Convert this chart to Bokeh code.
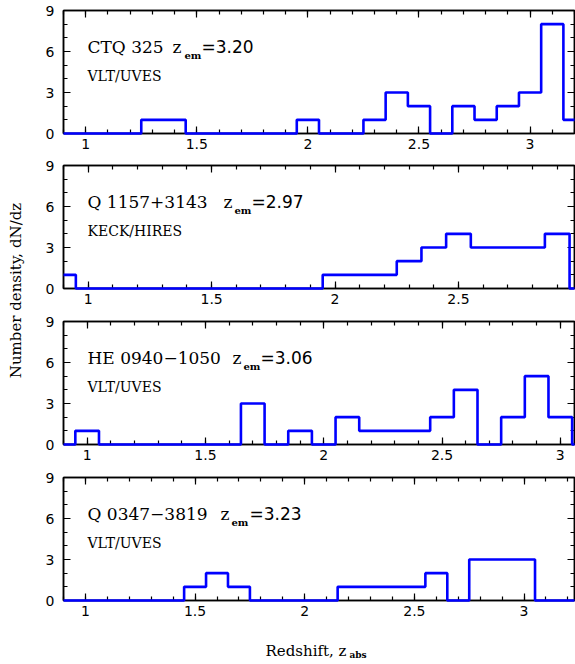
from math import pi
from bokeh.plotting import figure
from bokeh.models import Range1d, LinearAxis, SingleIntervalTicker, Label
from bokeh.layouts import column, row
from bokeh.embed import file_html
from bokeh.resources import INLINE

# ---------------- data ----------------
qso_names = ["CTQ 325", "Q 1157+3143", "HE 0940\u22121050", "Q 0347\u22123819"]
z_em = [3.20, 2.97, 3.06, 3.23]
instruments = ["VLT/UVES", "KECK/HIRES", "VLT/UVES", "VLT/UVES"]
z_start = 0.9

edges_ctq325 = [0.9, 1.25, 1.45, 1.95, 2.05, 2.25, 2.35, 2.45, 2.55, 2.65, 2.75, 2.85, 2.95, 3.05, 3.15, 3.20]
dndz_ctq325 = [0, 1, 0, 1, 0, 1, 3, 2, 0, 2, 1, 2, 3, 8, 1]

edges_q1157 = [0.9, 0.95, 1.95, 2.25, 2.35, 2.45, 2.55, 2.85, 2.95, 2.97]
dndz_q1157 = [1, 0, 1, 2, 3, 4, 3, 4, 0]

edges_he0940 = [0.9, 0.95, 1.05, 1.65, 1.75, 1.85, 1.95, 2.05, 2.15, 2.45, 2.55, 2.65, 2.75, 2.85, 2.95, 3.05, 3.06]
dndz_he0940 = [0, 1, 0, 3, 0, 1, 0, 2, 1, 2, 4, 0, 2, 5, 2, 0]

edges_q0347 = [0.9, 1.45, 1.55, 1.65, 1.75, 2.15, 2.55, 2.65, 2.75, 3.05, 3.23]
dndz_q0347 = [0, 1, 2, 1, 0, 1, 2, 0, 3, 0]

all_edges = [edges_ctq325, edges_q1157, edges_he0940, edges_q0347]
all_dndz = [dndz_ctq325, dndz_q1157, dndz_he0940, dndz_q0347]

x_ticks = [1, 1.5, 2, 2.5, 3]
x_tick_labels = ["1", "1.5", "2", "2.5", "3"]
y_max = 9

y_label = "Number density, dN/dz"
x_label = "Redshift, z"
x_label_sub = "abs"

# ---------------- style / layout ----------------
BLUE = "#0000ff"
SERIF = "DejaVu Serif"
SANS = "DejaVu Sans"
FIG_W = 537
LEFT_W = 38
# x pixel positions (relative to frame left) of title pieces per panel
z_px = [109, 160, 169, 157]
em_px = [121, 171, 180, 168]
eq_px = [138, 188, 197, 186]
tops = [10, 8, 8, 8]
bottoms = [24, 25, 25, 25]
FRAME_H = 123

panels = []
for i in range(4):
    h = tops[i] + FRAME_H + bottoms[i]
    p = figure(width=FIG_W, height=h, toolbar_location=None, output_backend="svg",
               x_range=Range1d(z_start, z_em[i]), y_range=Range1d(0, y_max),
               min_border_left=25, min_border_right=1, min_border_top=tops[i],
               min_border_bottom=bottoms[i])
    p.xgrid.visible = False
    p.ygrid.visible = False
    p.outline_line_color = "black"
    p.outline_line_width = 1.5
    p.background_fill_color = "white"
    p.border_fill_color = "white"

    xt = SingleIntervalTicker(interval=0.5, num_minor_ticks=5)
    yt = SingleIntervalTicker(interval=3, num_minor_ticks=3)
    p.xaxis.ticker = xt
    p.yaxis.ticker = yt
    p.xaxis.major_label_overrides = dict(zip(x_ticks, x_tick_labels))
    p.add_layout(LinearAxis(ticker=xt), "above")
    p.add_layout(LinearAxis(ticker=yt), "right")
    for ax in p.axis:
        ax.axis_line_color = "black"
        ax.axis_line_width = 1.5
        ax.major_tick_in = 7
        ax.major_tick_out = 0
        ax.minor_tick_in = 4
        ax.minor_tick_out = 0
        ax.major_tick_line_color = "black"
        ax.minor_tick_line_color = "black"
        ax.major_tick_line_width = 1.2
        ax.minor_tick_line_width = 1.2
        ax.major_label_text_font = SANS
        ax.major_label_text_font_size = "14px"
        ax.major_label_text_color = "black"
    for ax in (p.above[0], p.right[0]):
        ax.major_label_text_color = None
        ax.major_label_text_font_size = "1px"
        ax.major_label_standoff = 0
    p.xaxis[0].major_label_standoff = 7
    p.yaxis[0].major_label_standoff = 9

    e = all_edges[i]
    v = all_dndz[i]
    r = p.step(x=e, y=v + [v[-1]], mode="after", line_color=BLUE, line_width=2.6)
    r.level = "overlay"

    ty = 87
    p.add_layout(Label(x=24, y=ty, x_units="screen", y_units="screen", text=qso_names[i],
                       text_font=SERIF, text_font_size="17px", text_baseline="middle",
                       text_color="black"))
    p.add_layout(Label(x=z_px[i], y=ty, x_units="screen", y_units="screen", text="z",
                       text_font=SERIF, text_font_size="17px", text_baseline="middle",
                       text_color="black"))
    p.add_layout(Label(x=em_px[i], y=ty - 9, x_units="screen", y_units="screen", text="em",
                       text_font=SERIF, text_font_size="10px", text_font_style="bold",
                       text_baseline="middle", text_color="black"))
    p.add_layout(Label(x=eq_px[i], y=ty, x_units="screen", y_units="screen",
                       text="=%.2f" % z_em[i],
                       text_font=SANS, text_font_size="17px", text_baseline="middle",
                       text_color="black"))
    p.add_layout(Label(x=24, y=58, x_units="screen", y_units="screen", text=instruments[i],
                       text_font=SERIF, text_font_size="14px", text_baseline="middle",
                       text_color="black"))
    panels.append(p)

panels_h = sum(tops) + 4 * FRAME_H + sum(bottoms)
XL_H = 662 - panels_h
xl = figure(width=FIG_W, height=XL_H, toolbar_location=None, output_backend="svg",
            x_range=Range1d(0, 1), y_range=Range1d(0, 1),
            x_axis_location=None, y_axis_location=None, min_border=0)
xl.xgrid.visible = False
xl.ygrid.visible = False
xl.outline_line_color = None
xl.add_layout(Label(x=202, y=XL_H - 25, x_units="screen", y_units="screen", text=x_label,
                    text_font=SERIF, text_font_size="15px", text_baseline="middle",
                    text_color="black"))
xl.add_layout(Label(x=286, y=XL_H - 29, x_units="screen", y_units="screen", text=x_label_sub,
                    text_font=SERIF, text_font_size="9px", text_font_style="bold",
                    text_baseline="middle", text_color="black"))

total_h = panels_h + XL_H
yl = figure(width=LEFT_W, height=total_h, toolbar_location=None, output_backend="svg",
            x_range=Range1d(0, 1), y_range=Range1d(0, 1),
            x_axis_location=None, y_axis_location=None, min_border=0)
yl.xgrid.visible = False
yl.ygrid.visible = False
yl.outline_line_color = None
yl.add_layout(Label(x=15, y=total_h - 290, x_units="screen", y_units="screen", text=y_label,
                    angle=pi / 2, text_font=SERIF, text_font_size="15px",
                    text_align="center", text_baseline="middle", text_color="black"))

layout = row(yl, column(*panels, xl))
open("out.html", "w").write(file_html(layout, INLINE))
